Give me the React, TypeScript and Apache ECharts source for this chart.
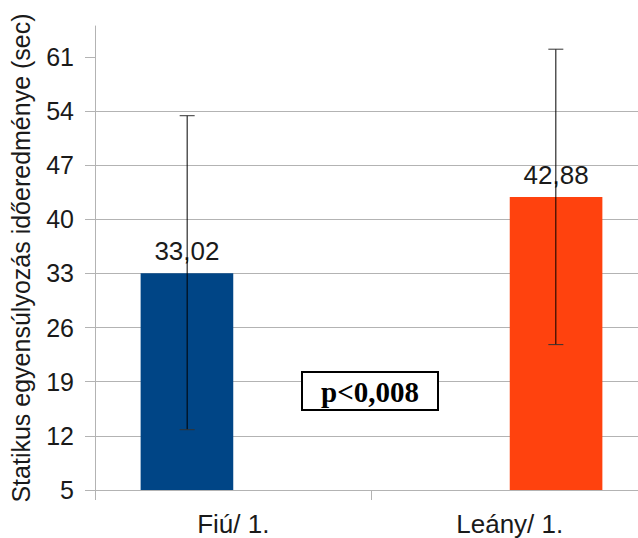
import React, { useEffect, useRef } from "react";
import * as echarts from "echarts";

const categories = ["Fiú/ 1.", "Leány/ 1."];
const fiuValues = [33.02, null];
const leanyValues = [null, 42.88];
const means = [33.02, 42.88];
const errLow = [12.8, 23.8];
const errHigh = [53.4, 62.0];
const yTicks = [5, 12, 19, 26, 33, 40, 47, 54, 61];
const yAxisTitle = "Statikus egyensúlyozás időeredménye (sec)";
const pText = "p<0,008";

export default function App() {
  const ref = useRef<HTMLDivElement>(null);
  useEffect(() => {
    const chart = echarts.init(ref.current!, null, { renderer: "svg" });
    const fmt = (p: any) => String(p.value).replace(".", ",").padEnd(5, "0");
    chart.setOption({
      animation: false,
      textStyle: { fontFamily: "Liberation Sans, Arial, sans-serif" },
      grid: { left: 94, right: 0, top: 26, bottom: 48, containLabel: false },
      xAxis: {
        type: "category",
        data: categories,
        axisLine: { lineStyle: { color: "#b3b3b3", width: 1 } },
        axisTick: { show: true, length: 10, lineStyle: { color: "#b3b3b3" } },
        axisLabel: { fontSize: 26, color: "#1a1a1a", margin: 21 },
        splitLine: { show: false },
      },
      yAxis: {
        type: "value",
        min: 5,
        max: 65,
        interval: 7,
        name: yAxisTitle,
        nameLocation: "middle",
        nameGap: 62,
        nameTextStyle: { fontSize: 25, color: "#1a1a1a" },
        axisLine: { show: true, lineStyle: { color: "#b3b3b3", width: 1 } },
        axisTick: { show: true, length: 10, customValues: yTicks, lineStyle: { color: "#b3b3b3" } },
        axisLabel: { fontSize: 25, color: "#1a1a1a", margin: 21, customValues: yTicks },
        splitLine: { show: true, showMaxLine: false, lineStyle: { color: "#b3b3b3", width: 1 } },
      },
      series: [
        {
          type: "bar",
          data: fiuValues,
          barGap: "0%",
          barCategoryGap: "33%",
          itemStyle: { color: "#004586" },
          label: { show: true, position: "top", distance: 9, fontSize: 26, color: "#1a1a1a", formatter: fmt },
        },
        {
          type: "bar",
          data: leanyValues,
          barGap: "0%",
          barCategoryGap: "33%",
          itemStyle: { color: "#ff420e" },
          label: { show: true, position: "top", distance: 9, fontSize: 26, color: "#1a1a1a", formatter: fmt },
        },
        {
          type: "custom",
          z: 10,
          clip: false,
          data: means.map((m, i) => [i, errLow[i], errHigh[i]]),
          renderItem: (params: any, api: any) => {
            const i = api.value(0);
            const bw = api.size([1, 0])[0];
            const off = i === 0 ? -bw / 6 : bw / 6;
            const lo = api.coord([i, api.value(1)]);
            const hi = api.coord([i, api.value(2)]);
            const x = lo[0] + off;
            const cap = 7.5;
            return {
              type: "group",
              children: [
                { type: "line", shape: { x1: x, y1: lo[1], x2: x, y2: hi[1] }, style: { stroke: "#000", lineWidth: 1 } },
                { type: "line", shape: { x1: x - cap, y1: hi[1], x2: x + cap, y2: hi[1] }, style: { stroke: "#333", lineWidth: 1 } },
                { type: "line", shape: { x1: x - cap, y1: lo[1], x2: x + cap, y2: lo[1] }, style: { stroke: "#333", lineWidth: 1 } },
              ],
            };
          },
        },
      ],
      graphic: [
        {
          type: "rect",
          shape: { x: 302, y: 372, width: 136, height: 38 },
          style: { fill: "#fff", stroke: "#000", lineWidth: 2 },
          z: 20,
        },
        {
          type: "text",
          x: 370,
          y: 392,
          z: 21,
          style: {
            text: pText,
            font: "bold 29px 'Liberation Serif', 'Times New Roman', serif",
            fill: "#000",
            textAlign: "center",
            textVerticalAlign: "middle",
          },
        },
      ],
    });
    return () => chart.dispose();
  }, []);
  return (
    <div style={{ position: "absolute", left: 0, top: 0, width: 638, height: 538, overflow: "hidden" }}>
      <div ref={ref} style={{ width: 648, height: 538 }} />
    </div>
  );
}
